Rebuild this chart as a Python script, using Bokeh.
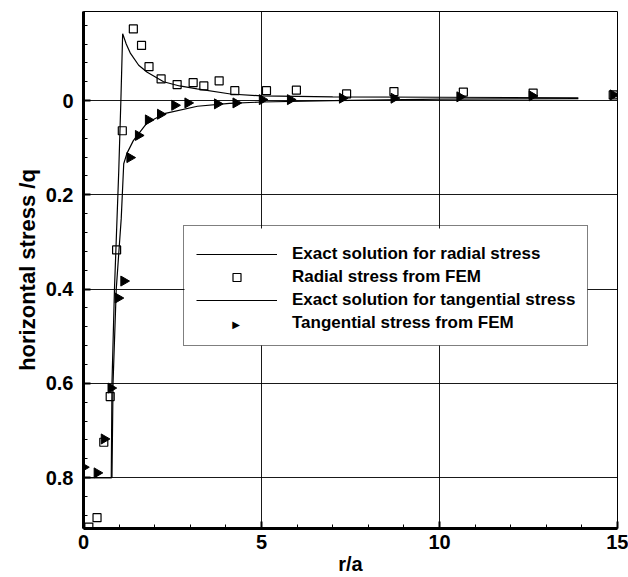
import math

from bokeh.embed import file_html
from bokeh.models import (BoxAnnotation, ColumnDataSource, FixedTicker, Label, Legend,
                          LegendItem, NumeralTickFormatter, Range1d, Title)
from bokeh.plotting import figure
from bokeh.resources import INLINE

# Exact (analytical) solutions: r/a versus normalised stress
radial_exact_r = [0.0, 0.78, 0.80, 0.87, 0.99, 1.05, 1.10, 1.20, 1.32, 1.55, 1.79,
                  2.25, 2.70, 3.19, 4.13, 5.0, 7.0, 10.0, 13.9]
radial_exact_s = [0.80, 0.80, 0.60, 0.40, 0.15, 0.0, -0.142, -0.120, -0.100, -0.075,
                  -0.060, -0.040, -0.031, -0.025, -0.014, -0.010, -0.008, -0.007, -0.006]

tangential_exact_r = [0.0, 0.80, 0.83, 0.92, 1.06, 1.13, 1.22, 1.40, 1.79, 2.30,
                      3.20, 4.10, 5.0, 7.0, 10.0, 13.9]
tangential_exact_s = [0.80, 0.80, 0.60, 0.40, 0.25, 0.134, 0.112, 0.085, 0.047, 0.027,
                      0.012, 0.006, 0.003, 0.0, -0.003, -0.004]

# Finite element results
radial_fem_r = [0.15, 0.38, 0.57, 0.75, 0.93, 1.09, 1.40, 1.63, 1.84, 2.18, 2.63,
                3.08, 3.38, 3.81, 4.25, 5.14, 5.98, 7.39, 8.72, 10.67, 12.63, 14.88]
radial_fem_s = [0.905, 0.885, 0.725, 0.628, 0.317, 0.064, -0.152, -0.117, -0.072,
                -0.046, -0.034, -0.038, -0.031, -0.042, -0.021, -0.021, -0.022,
                -0.014, -0.019, -0.018, -0.016, -0.012]

tangential_fem_r = [0.0, 0.38, 0.58, 0.77, 0.97, 1.13, 1.30, 1.54, 1.82, 2.16, 2.56,
                    2.93, 3.76, 4.28, 5.02, 5.81, 7.27, 8.72, 10.57, 12.60, 14.88]
tangential_fem_s = [0.778, 0.790, 0.718, 0.610, 0.419, 0.383, 0.121, 0.074, 0.041,
                    0.029, 0.010, 0.005, 0.007, 0.005, -0.002, -0.002, -0.005, -0.005,
                    -0.008, -0.010, -0.012]

x_major = [0, 5, 10, 15]
y_major = [0.0, 0.2, 0.4, 0.6, 0.8]

legend_labels = ["Exact solution for radial stress", "Radial stress from FEM",
                 "Exact solution for tangential stress", "Tangential stress from FEM"]

FONT = "Liberation Sans"

p = figure(width=628, height=577, output_backend="svg", toolbar_location=None,
           x_range=Range1d(0, 15), y_range=Range1d(0.908, -0.189),
           min_border_left=83, min_border_right=11, min_border_top=11,
           min_border_bottom=49)
p.background_fill_color = "white"
p.border_fill_color = "white"
p.outline_line_color = "black"
p.outline_line_width = 1

# axes
for ax in (p.xaxis[0], p.yaxis[0]):
    ax.axis_line_width = 3
    ax.axis_line_color = "black"
    ax.major_tick_in = 7
    ax.major_tick_out = 0
    ax.minor_tick_in = 4
    ax.minor_tick_out = 0
    ax.major_tick_line_width = 2
    ax.minor_tick_line_width = 1
    ax.major_label_text_font = FONT
    ax.major_label_text_font_style = "bold"
    ax.major_label_text_font_size = "20px"
    ax.major_label_text_color = "black"
    ax.axis_label_text_font = FONT
    ax.axis_label_text_font_style = "bold"
    ax.axis_label_text_color = "black"

p.xaxis.ticker = FixedTicker(ticks=x_major,
                             minor_ticks=[i for i in range(0, 16) if i % 5])
p.xaxis.formatter = NumeralTickFormatter(format="0")
p.xaxis.axis_label = "r/a"
p.xaxis.axis_label_text_font_size = "20px"
p.xaxis.major_label_standoff = 6
p.xaxis.axis_label_standoff = 1

p.yaxis.ticker = FixedTicker(ticks=y_major,
                             minor_ticks=[round(-0.16 + 0.04 * i, 2) for i in range(27)])
p.yaxis.formatter = NumeralTickFormatter(format="0.[0]")
p.yaxis.major_label_standoff = 10

# vertical axis title as a side title, nudged a little below the frame's middle
p.add_layout(Title(text="horizontal stress /q", align="center", offset=-23,
                   text_font=FONT, text_font_style="bold", text_font_size="22px",
                   text_color="black", standoff=6), "left")

# grid
p.xgrid.ticker = FixedTicker(ticks=x_major)
p.ygrid.ticker = FixedTicker(ticks=y_major)
for g in (p.xgrid[0], p.ygrid[0]):
    g.grid_line_color = "black"
    g.grid_line_width = 1
    g.grid_line_alpha = 0.9

# curves and FEM points
r_exact = p.line(radial_exact_r, radial_exact_s, line_color="black", line_width=1.2)
t_exact = p.line(tangential_exact_r, tangential_exact_s, line_color="black", line_width=1.2)

rad_src = ColumnDataSource(dict(r=radial_fem_r, s=radial_fem_s))
r_fem = p.scatter("r", "s", source=rad_src, marker="square", size=8,
                  fill_color="white", fill_alpha=0.0, line_color="black", line_width=1.2)

tan_src = ColumnDataSource(dict(r=tangential_fem_r, s=tangential_fem_s))
t_fem = p.scatter("r", "s", source=tan_src, marker="triangle", size=10,
                  angle=-math.pi / 2, fill_color="black", line_color="black")

# the legend draws markers unrotated, so the tangential entry gets an empty
# swatch with a right-pointing arrowhead underneath a see-through legend
t_swatch = p.scatter(x=[], y=[], marker="triangle", fill_alpha=0, line_alpha=0)

LEG_X, LEG_Y = 100, 182      # legend box, px from the frame's bottom-left
LEG_W, LEG_H = 404, 118
LEG_PAD, GLYPH_W = 12, 81

# white panel behind the legend hides the grid
p.add_layout(BoxAnnotation(left=LEG_X + 1, right=LEG_X + LEG_W, bottom=LEG_Y + 1,
                           top=LEG_Y + LEG_H, left_units="screen", right_units="screen",
                           bottom_units="screen", top_units="screen",
                           fill_color="white", fill_alpha=1.0, line_alpha=0))

p.add_layout(Label(x=LEG_X + LEG_PAD + GLYPH_W / 2, y=LEG_Y + LEG_PAD + 10,
                   x_units="screen", y_units="screen", text="\u25B6",
                   text_font="DejaVu Sans", text_font_size="10px", text_color="black",
                   text_align="center", text_baseline="middle"))

legend = Legend(items=[LegendItem(label=legend_labels[0], renderers=[r_exact]),
                       LegendItem(label=legend_labels[1], renderers=[r_fem]),
                       LegendItem(label=legend_labels[2], renderers=[t_exact]),
                       LegendItem(label=legend_labels[3], renderers=[t_swatch])],
                location=(LEG_X, LEG_Y))
legend.title = " "
legend.title_text_font_size = "6px"
legend.title_standoff = 0
legend.border_line_color = "black"
legend.border_line_width = 1
legend.background_fill_alpha = 0.0
legend.label_text_font = FONT
legend.label_text_font_style = "bold"
legend.label_text_font_size = "17px"
legend.label_text_color = "black"
legend.glyph_width = GLYPH_W
legend.glyph_height = 20
legend.label_height = 20
legend.label_standoff = 15
legend.spacing = 3
legend.padding = LEG_PAD
legend.margin = 0
p.add_layout(legend, "center")

open("out.html", "w").write(file_html(p, INLINE))
